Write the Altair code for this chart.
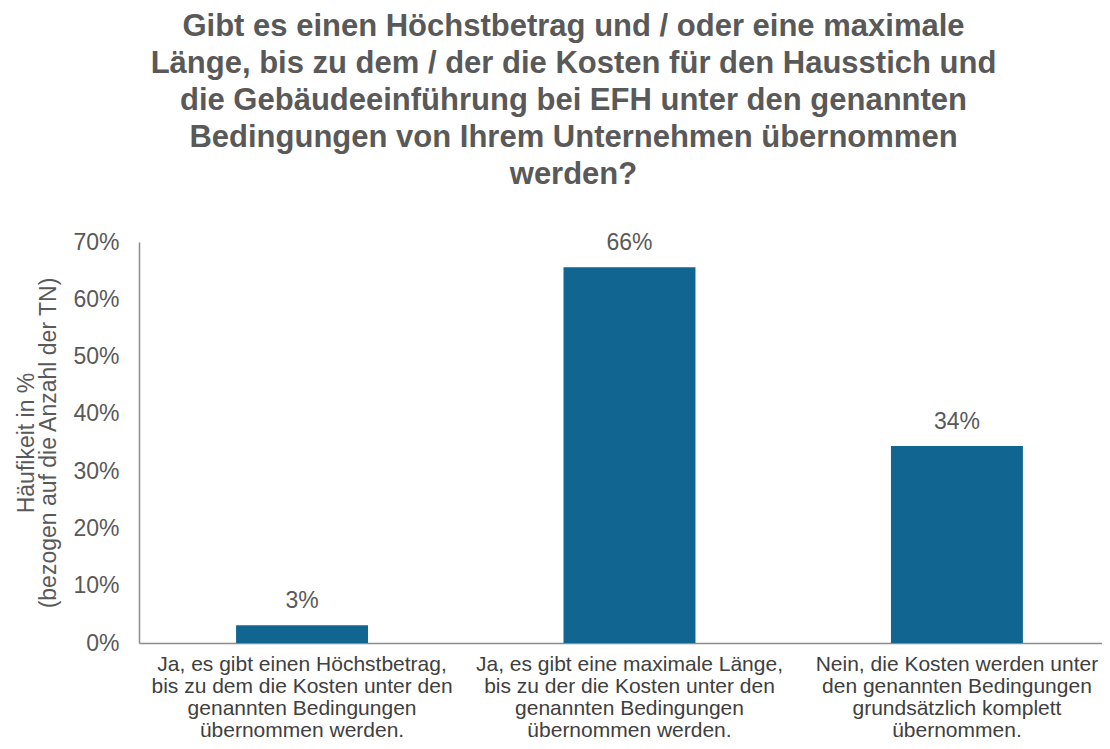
import altair as alt
import pandas as pd

categories = [
    "Ja, es gibt einen Höchstbetrag,|bis zu dem die Kosten unter den|genannten Bedingungen|übernommen werden.",
    "Ja, es gibt eine maximale Länge,|bis zu der die Kosten unter den|genannten Bedingungen|übernommen werden.",
    "Nein, die Kosten werden unter|den genannten Bedingungen|grundsätzlich komplett|übernommen.",
]
values = [0.031, 0.656, 0.344]
title_lines = [
    "Gibt es einen Höchstbetrag und / oder eine maximale",
    "Länge, bis zu dem / der die Kosten für den Hausstich und",
    "die Gebäudeeinführung bei EFH unter den genannten",
    "Bedingungen von Ihrem Unternehmen übernommen",
    "werden?",
]
y_title = ["Häufikeit in %", "(bezogen auf die Anzahl der TN)"]

df = pd.DataFrame({"cat": categories, "val": values})

FONT = "Liberation Sans"
GREY = "#595959"
BAR = "#106591"

x = alt.X(
    "cat:N",
    sort=categories,
    title=None,
    scale=alt.Scale(paddingInner=0.597, paddingOuter=0.269, align=0.551),
    axis=alt.Axis(
        labelAngle=0,
        labelExpr="split(datum.label, '|')",
        labelFont=FONT,
        labelFontSize=21,
        labelColor="#404040",
        labelLimit=400,
        labelPadding=10,
        labelLineHeight=22,
        ticks=False,
        domainColor="#8c8c8c",
        domainWidth=1.5,
    ),
)
y = alt.Y(
    "val:Q",
    title=y_title,
    scale=alt.Scale(domain=[0, 0.7]),
    axis=alt.Axis(
        format=".0%",
        values=[0, 0.1, 0.2, 0.3, 0.4, 0.5, 0.6, 0.7],
        grid=False,
        ticks=False,
        labelFont=FONT,
        labelFontSize=23,
        labelColor=GREY,
        labelPadding=20,
        domainColor="#8c8c8c",
        domainWidth=1.5,
        titleFont=FONT,
        titleFontSize=23,
        titleFontWeight="normal",
        titleColor=GREY,
        titlePadding=12,
        titleLineHeight=22,
    ),
)

bars = alt.Chart(df).mark_bar(color=BAR).encode(x=x, y=y)
labels = alt.Chart(df).mark_text(
    baseline="bottom", dy=-12, font=FONT, fontSize=23, color=GREY
).encode(x=alt.X("cat:N", sort=categories), y="val:Q", text=alt.Text("val:Q", format=".0%"))

chart = (
    alt.layer(bars, labels)
    .properties(
        width=963,
        height=401,
        autosize=alt.AutoSizeParams(type="none"),
        padding={"left": 131, "top": 234, "right": 0, "bottom": 98},
        title=alt.TitleParams(
            text=title_lines,
            font=FONT,
            fontSize=31,
            fontWeight="bold",
            color=GREY,
            anchor="middle",
            dx=-47,
            offset=40,
            lineHeight=37,
        ),
    )
    .configure_view(stroke=None)
)

chart.save("out.html", embed_options={"renderer": "svg", "actions": False})
